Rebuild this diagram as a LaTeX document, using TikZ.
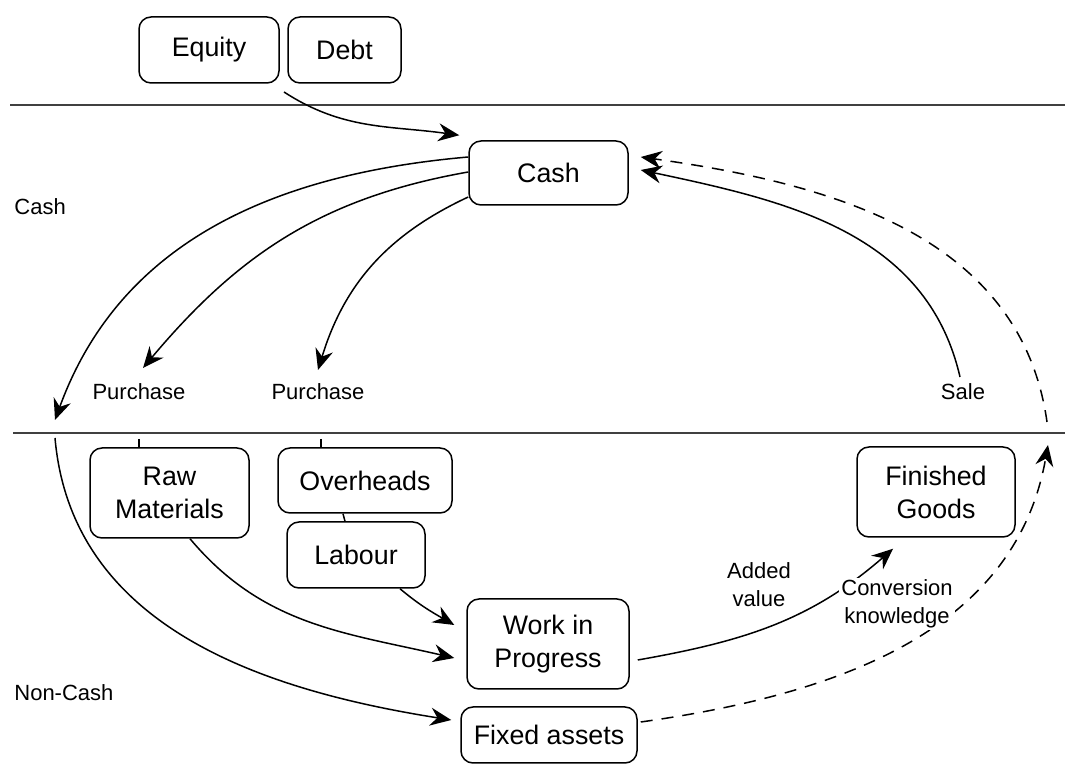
\documentclass[tikz,border=0pt]{standalone}
\usepackage{fontspec}
\setmainfont{Liberation Sans}
\usetikzlibrary{arrows.meta,calc}

\tikzset{
  blk/.style={shape=rectangle, rounded corners=6pt, draw=black, line width=0.75pt, align=center, inner sep=0pt, font=\fontsize{13.4}{16.5}\selectfont},
  lbl/.style={align=center, inner sep=1pt, font=\fontsize{11}{14}\selectfont},
  flow/.style={line width=0.75pt, -{Stealth[length=10.5pt,width=9pt,inset=3.5pt]}},
  zone/.style={line width=0.6pt, draw=black!75},
}

\begin{document}
\begin{tikzpicture}[x=0.5pt,y=0.5pt]
\useasboundingbox (0,0) rectangle (1065,765);

% zones
\draw[zone] (10,660) -- (1065,660);
\draw[zone] (13,332) -- (1065,332);
\node[lbl, anchor=west](cashzone) at (12,558) {Cash};
\node[lbl, anchor=west](noncashzone) at (12,72) {Non-Cash};

% boxes
\node[blk, minimum width=70pt, minimum height=33pt](equity) at (209,715) {Equity};
\node[blk, minimum width=56.5pt, minimum height=33pt](debt) at (344.5,715) {Debt};
\node[blk, minimum width=79.5pt, minimum height=32pt](cash) at (548.5,592) {Cash};
\node[blk, minimum width=79.5pt, minimum height=45pt](raw) at (169.5,272) {Raw\\Materials};
\node[blk, minimum width=87pt, minimum height=32.5pt](overheads) at (365,284.5) {Overheads};
\node[blk, minimum width=69pt, minimum height=33pt](labour) at (356,210) {Labour};
\node[blk, minimum width=81pt, minimum height=45pt](wip) at (548,121) {Work in\\Progress};
\node[blk, minimum width=88pt, minimum height=28pt](fixed) at (549,30) {Fixed assets};
\node[blk, minimum width=79pt, minimum height=45pt](finished) at (936,273) {Finished\\Goods};

% edge labels
\node[lbl](buyrawlbl) at (139,373) {Purchase};
\node[lbl](buyoverlbl) at (318,373) {Purchase};
\node[lbl](salelbl) at (963,373) {Sale};
\node[lbl](addedlbl) at (759,180) {Added\\value};

% loose ends
\coordinate (fundsrc) at (284,673);
\coordinate (buyall) at (55,345);
\coordinate (buyraw) at (143,397);
\coordinate (buyover) at (318,395);
\coordinate (assetsrc) at (55,327);
\coordinate (rawin) at (139,326);
\coordinate (overin) at (321,326);
\coordinate (salesrc) at (960,388);
\coordinate (upsrc) at (1047,343);
\coordinate (uptip) at (1048,320);

% cash side
\draw[flow] (fundsrc) to[out=-33,in=172] ($(cash.north west)+(-9,5)$);
\draw[flow] ($(cash.west)+(0,16)$) to[out=185,in=70] (buyall);
\draw[flow] ($(cash.west)+(0,1)$) to[out=190,in=50] (buyraw);
\draw[flow] ($(cash.west)+(0,-24)$) to[out=205,in=73] (buyover);
\draw[flow] (salesrc) to[out=103,in=-12] ($(cash.east)+(12,3)$);
\draw[flow, dashed, dash pattern=on 6pt off 4.5pt] (upsrc) to[out=98,in=-8] ($(cash.east)+(12,16)$);

% non-cash side
\draw[line width=0.75pt] (rawin) -- (rawin |- raw.north);
\draw[line width=0.75pt] (overin) -- (overin |- overheads.north);
\draw[line width=0.75pt] ($(overheads.south)+(-22,0)$) -- ($(labour.north)+(-11,0)$);
\draw[flow] (assetsrc) to[out=-85,in=171] ($(fixed.west)+(-9,15)$);
\draw[flow] ($(raw.south)+(20.5,0)$) to[out=-50,in=167] ($(wip.west)+(-12,-14)$);
\draw[flow] ($(labour.south)+(44,0)$) to[out=-40,in=150] ($(wip.west)+(-12,19)$);
\draw[flow] ($(wip.east)+(8,-16)$) to[out=10,in=221] ($(finished.south)+(-43,-11)$);
\draw[flow, dashed, dash pattern=on 6pt off 4.5pt] ($(fixed.east)+(3,13)$) to[out=8,in=260] (uptip);

\node[lbl, fill=white](convlbl) at (897,161) {Conversion\\knowledge};
\end{tikzpicture}
\end{document}
